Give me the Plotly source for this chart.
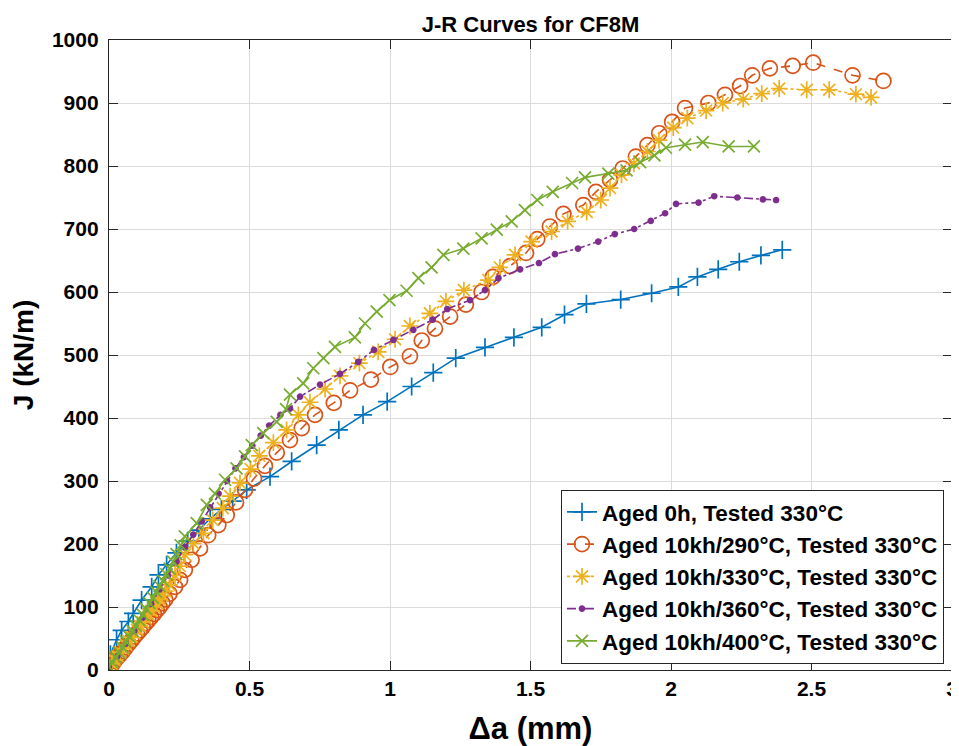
import plotly.graph_objects as go

# ---------------- data ----------------
names = [
    "Aged 0h, Tested 330°C",
    "Aged 10kh/290°C, Tested 330°C",
    "Aged 10kh/330°C, Tested 330°C",
    "Aged 10kh/360°C, Tested 330°C",
    "Aged 10kh/400°C, Tested 330°C",
]

da_0h = [0.000, 0.005, 0.027, 0.045, 0.069, 0.086, 0.116, 0.152, 0.176, 0.205, 0.240, 0.280,
         0.320, 0.360, 0.400, 0.440, 0.490, 0.573, 0.650, 0.739, 0.818, 0.904, 0.990, 1.077,
         1.154, 1.234, 1.338, 1.441, 1.540, 1.621, 1.699, 1.821, 1.931, 2.026, 2.094, 2.168,
         2.243, 2.320, 2.396]
J_0h = [3, 25, 48, 63, 77, 90, 111, 132, 151, 167, 186, 205,
        222, 240, 255, 268, 286, 307, 331, 357, 381, 405, 426, 450,
        472, 495, 512, 528, 544, 564, 581, 588, 598, 608, 624, 636,
        648, 658, 667]

da_290 = [0.000, 0.010, 0.020, 0.030, 0.040, 0.050, 0.060, 0.070, 0.080, 0.090, 0.100, 0.110,
          0.120, 0.130, 0.140, 0.150, 0.160, 0.170, 0.180, 0.190, 0.200, 0.215, 0.235, 0.253,
          0.270, 0.294, 0.324, 0.353, 0.389, 0.419, 0.452, 0.484, 0.516, 0.555, 0.597, 0.644,
          0.686, 0.733, 0.800, 0.858, 0.932, 1.001, 1.071, 1.113, 1.160, 1.214, 1.270, 1.326,
          1.366, 1.427, 1.484, 1.524, 1.569, 1.617, 1.688, 1.733, 1.783, 1.828, 1.875, 1.916,
          1.958, 2.004, 2.050, 2.133, 2.192, 2.246, 2.289, 2.352, 2.433, 2.506, 2.646, 2.756]
J_290 = [5, 8, 14, 20, 25, 30, 36, 42, 47, 53, 58, 63,
         68, 74, 79, 84, 89, 95, 100, 106, 112, 121, 132, 143,
         159, 175, 193, 214, 230, 246, 266, 286, 304, 324, 345, 365,
         384, 405, 424, 444, 461, 481, 498, 523, 542, 561, 580, 600,
         624, 641, 662, 684, 704, 724, 738, 759, 778, 796, 815, 833,
         852, 870, 892, 900, 913, 927, 944, 955, 959, 964, 944, 935]

da_330 = [0.000, 0.010, 0.020, 0.030, 0.040, 0.050, 0.060, 0.070, 0.080, 0.090, 0.100, 0.110,
          0.120, 0.130, 0.140, 0.150, 0.160, 0.170, 0.180, 0.190, 0.200, 0.215, 0.235, 0.252,
          0.270, 0.300, 0.336, 0.369, 0.405, 0.431, 0.466, 0.504, 0.535, 0.585, 0.632, 0.674,
          0.715, 0.769, 0.822, 0.891, 0.958, 1.018, 1.071, 1.142, 1.199, 1.263, 1.350, 1.391,
          1.445, 1.504, 1.575, 1.632, 1.700, 1.750, 1.783, 1.824, 1.868, 1.916, 1.957, 2.008,
          2.058, 2.125, 2.184, 2.257, 2.323, 2.385, 2.483, 2.563, 2.658, 2.712]
J_330 = [5, 10, 16, 22, 28, 34, 40, 46, 52, 58, 64, 70,
         76, 82, 88, 94, 100, 106, 112, 118, 125, 135, 150, 165,
         183, 201, 217, 238, 257, 276, 297, 319, 340, 361, 381, 405,
         425, 446, 467, 487, 505, 525, 546, 566, 585, 603, 619, 639,
         659, 680, 696, 712, 727, 746, 765, 786, 804, 823, 841, 861,
         876, 888, 900, 906, 915, 923, 921, 921, 914, 909]

da_360 = [0.000, 0.030, 0.060, 0.090, 0.120, 0.150, 0.180, 0.210, 0.240, 0.270, 0.300, 0.330,
          0.360, 0.390, 0.420, 0.450, 0.480, 0.510, 0.540, 0.570, 0.610, 0.644, 0.680, 0.751,
          0.822, 0.887, 0.943, 1.012, 1.083, 1.152, 1.204, 1.285, 1.338, 1.386, 1.463, 1.530,
          1.587, 1.669, 1.741, 1.800, 1.869, 1.928, 1.979, 2.018, 2.098, 2.154, 2.236, 2.327,
          2.374]
J_360 = [5, 22, 42, 62, 83, 105, 128, 150, 172, 195, 215, 236,
         258, 280, 300, 320, 338, 356, 372, 388, 405, 415, 434, 453,
         470, 489, 508, 524, 540, 556, 573, 587, 603, 622, 636, 646,
         660, 669, 680, 692, 700, 713, 725, 740, 742, 752, 750, 747,
         746]

da_400 = [0.000, 0.012, 0.024, 0.036, 0.048, 0.060, 0.072, 0.084, 0.096, 0.108, 0.120, 0.132,
          0.144, 0.156, 0.168, 0.180, 0.192, 0.204, 0.216, 0.228, 0.240, 0.255, 0.270, 0.312,
          0.348, 0.377, 0.413, 0.454, 0.484, 0.508, 0.549, 0.597, 0.630, 0.644, 0.691, 0.727,
          0.763, 0.804, 0.875, 0.911, 0.953, 0.998, 1.059, 1.101, 1.148, 1.190, 1.261, 1.326,
          1.380, 1.433, 1.480, 1.524, 1.579, 1.648, 1.694, 1.777, 1.842, 1.890, 1.941, 1.982,
          2.050, 2.113, 2.205, 2.295]
J_400 = [5, 12, 20, 28, 36, 45, 53, 62, 70, 79, 88, 97,
         106, 115, 124, 133, 142, 152, 161, 172, 184, 198, 212, 233,
         262, 280, 302, 320, 339, 357, 376, 394, 414, 437, 455, 479,
         495, 513, 528, 550, 569, 587, 602, 622, 639, 659, 669, 685,
         699, 712, 730, 746, 759, 773, 782, 788, 793, 806, 817, 829,
         834, 838, 831, 831]

x_ticks = [0, 0.5, 1, 1.5, 2, 2.5, 3]
x_tick_text = ["0", "0.5", "1", "1.5", "2", "2.5", "3"]
y_ticks = [0, 100, 200, 300, 400, 500, 600, 700, 800, 900, 1000]

# ---------------- styling ----------------
colors = ["#0072BD", "#D95319", "#EDB120", "#7E2F8E", "#77AC30"]
dashes = ["solid", "dash", "dot", "dashdot", "solid"]
symbols = ["cross-thin-open", "circle-open", "asterisk-open", "circle", "x-thin-open"]
sizes = [13, 15, 14, 5, 12]

series = [(da_0h, J_0h), (da_290, J_290), (da_330, J_330), (da_360, J_360), (da_400, J_400)]

FONT = "Liberation Sans, Arial, sans-serif"

fig = go.Figure()
for i, (xs, ys) in enumerate(series):
    fig.add_trace(go.Scatter(
        x=xs, y=ys, name=names[i], mode="lines+markers",
        line=dict(color=colors[i], width=1.6, dash=dashes[i]),
        marker=dict(symbol=symbols[i], size=sizes[i], color=colors[i],
                    line=dict(color=colors[i], width=1.7)),
    ))

axis_common = dict(
    showline=True, linecolor="#262626", linewidth=1.3, mirror="ticks",
    ticks="inside", ticklen=9, tickwidth=1.3, tickcolor="#262626",
    showgrid=True, gridcolor="#dcdcdc", gridwidth=1.3,
    zeroline=False, automargin=False,
    tickfont=dict(family=FONT, size=21, color="#000000", weight="bold"),
)

# The page body has an 8px margin, so the figure is sized 951x738 to fill the 959x746 window.
fig.update_layout(
    width=951, height=738,
    paper_bgcolor="white", plot_bgcolor="white",
    margin=dict(l=101, r=7, t=32, b=76, autoexpand=False),
    title=dict(text="<b>J-R Curves for CF8M</b>", x=0.5, xanchor="center",
               xref="paper", yref="container", y=0.978, yanchor="middle",
               pad=dict(t=0, b=0),
               font=dict(family=FONT, size=22, color="#000000")),
    xaxis=dict(range=[0, 3], tickvals=x_ticks, ticktext=x_tick_text,
               title=dict(text="<b>Δa (mm)</b>", font=dict(family=FONT, size=31, color="#000000"),
                          standoff=17),
               **axis_common),
    yaxis=dict(range=[0, 1000], tickvals=y_ticks, ticklabelstandoff=5,
               title=dict(text="<b>J (kN/m)</b>", font=dict(family=FONT, size=28, color="#000000"),
                          standoff=16),
               **axis_common),
    legend=dict(x=0.9905, y=0.01, xanchor="right", yanchor="bottom",
                bgcolor="white", bordercolor="#262626", borderwidth=1,
                font=dict(family=FONT, size=22.5, color="#000000", weight="bold"),
                tracegroupgap=0, itemwidth=30),
    showlegend=True,
)

fig.write_html("out.html")
